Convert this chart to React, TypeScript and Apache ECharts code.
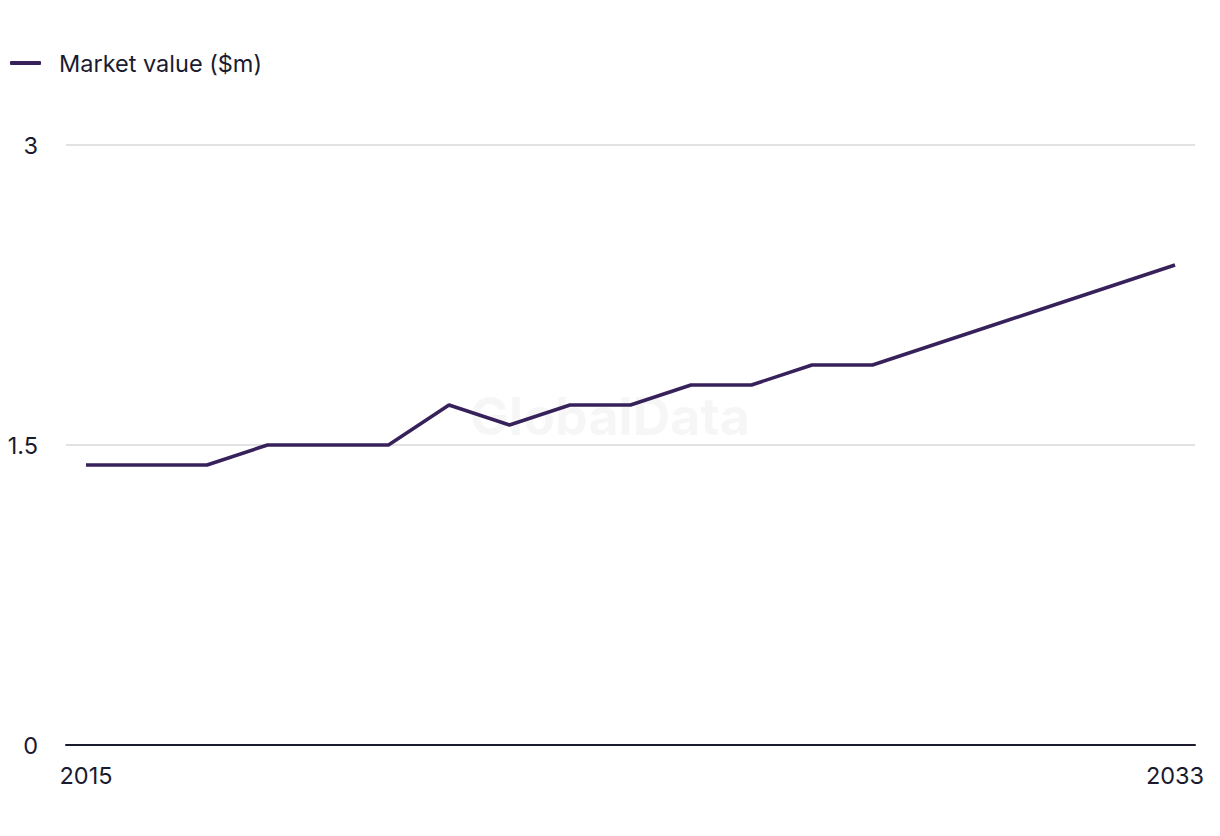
import React, { useEffect, useRef } from "react";
import * as echarts from "echarts";

const years = [2015, 2016, 2017, 2018, 2019, 2020, 2021, 2022, 2023, 2024, 2025, 2026, 2027, 2028, 2029, 2030, 2031, 2032, 2033];
const marketValue = [1.4, 1.4, 1.4, 1.5, 1.5, 1.5, 1.7, 1.6, 1.7, 1.7, 1.8, 1.8, 1.9, 1.9, 2.0, 2.1, 2.2, 2.3, 2.4];
const xTickLabels = [2015, 2033];
const yTicks = [0, 1.5, 3];
const seriesName = "Market value ($m)";

const FONT = "Inter, 'Liberation Sans', sans-serif";
const TEXT = "#1b1b2f";
const LINE = "#37215b";
const FS = 23.5;

export default function App() {
  const ref = useRef<HTMLDivElement>(null);
  useEffect(() => {
    if (!ref.current) return;
    const chart = echarts.init(ref.current, undefined, { renderer: "svg" });
    chart.setOption({
      animation: false,
      backgroundColor: "#ffffff",
      textStyle: { fontFamily: FONT },
      graphic: [
        {
          type: "text",
          left: "center",
          top: 390,
          z: 0,
          silent: true,
          style: {
            text: "GlobalData",
            fontSize: 52,
            fontWeight: "bold",
            fontFamily: FONT,
            fill: "rgba(0,0,0,0.035)",
          },
        },
      ],
      legend: {
        left: 5,
        top: 46,
        icon: "roundRect",
        itemWidth: 31,
        itemHeight: 4,
        textStyle: { fontSize: FS, color: TEXT, fontFamily: FONT, padding: [0, 0, 0, 13] },
        data: [seriesName],
      },
      grid: { left: 66, right: 25, top: 145, bottom: 91, containLabel: false },
      xAxis: {
        type: "value",
        min: 2015 - 20 / 60.56,
        max: 2033 + 20 / 60.56,
        splitLine: { show: false },
        axisTick: { show: false },
        axisLine: { show: true, lineStyle: { color: TEXT, width: 2 } },
        axisLabel: {
          customValues: xTickLabels,
          formatter: (v: number) => String(Math.round(v)),
          fontSize: FS,
          color: TEXT,
          fontFamily: FONT,
          margin: 18,
        },
      },
      yAxis: {
        type: "value",
        min: 0,
        max: 3,
        interval: 1.5,
        axisLine: { show: false },
        axisTick: { show: false },
        splitLine: { lineStyle: { color: "#d9d9dc", width: 1.5 } },
        axisLabel: {
          customValues: yTicks,
          fontSize: FS,
          color: TEXT,
          fontFamily: FONT,
          margin: 28,
        },
      },
      series: [
        {
          name: seriesName,
          type: "line",
          data: years.map((y, i) => [y, marketValue[i]]),
          showSymbol: false,
          symbol: "none",
          lineStyle: { color: LINE, width: 3.5 },
          itemStyle: { color: LINE },
          z: 3,
        },
      ],
    });
    return () => chart.dispose();
  }, []);
  return <div ref={ref} style={{ width: 1220, height: 836, position: "absolute", left: 0, top: 0 }} />;
}
